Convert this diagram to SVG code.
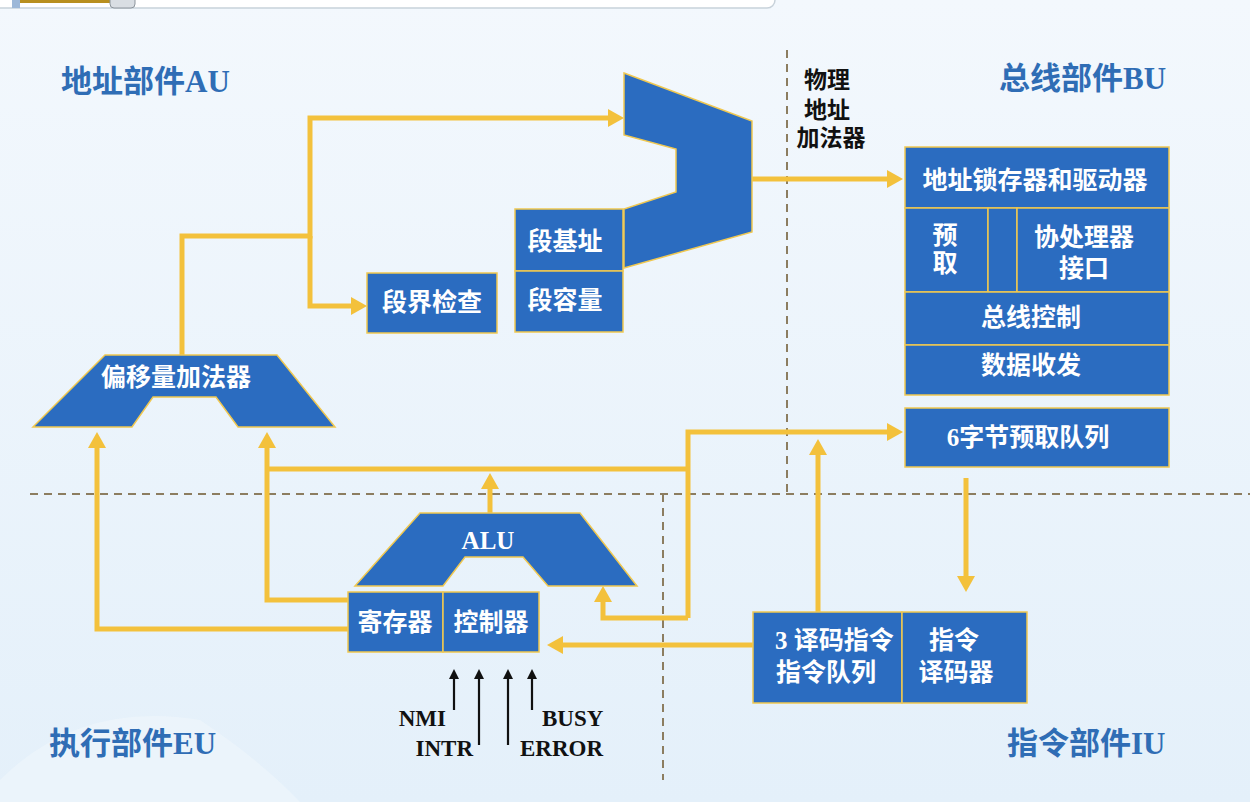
<svg xmlns="http://www.w3.org/2000/svg" width="1250" height="802" viewBox="0 0 1250 802">
<style>
.blk{fill:#2b6cc0;stroke:#f0c850;stroke-width:1.5}
.wt{fill:#ffffff;font-family:"Liberation Serif","Noto Sans CJK SC",serif;font-weight:bold;font-size:25px;text-anchor:middle;dominant-baseline:central}
.ws{text-anchor:start}
.hd{fill:#2f6db5;font-family:"Liberation Serif","Noto Sans CJK SC",serif;font-weight:bold;font-size:31px;dominant-baseline:central}
.bk{fill:#111111;font-family:"Liberation Serif","Noto Sans CJK SC",serif;font-weight:bold;font-size:23px;dominant-baseline:central}
.gl{fill:none;stroke:#f3c13c;stroke-width:5;stroke-linejoin:miter}
.sg{fill:none;stroke:#111111;stroke-width:2.2}
.dash{fill:none;stroke:#8c7d60;stroke-width:2;stroke-dasharray:8 6}
</style>
<defs>
<linearGradient id="bg" x1="0" y1="0" x2="0" y2="1">
<stop offset="0" stop-color="#f3f8fd"/>
<stop offset="1" stop-color="#e4f0fa"/>
</linearGradient>
<marker id="ga" viewBox="0 0 16 18" markerUnits="userSpaceOnUse" markerWidth="16" markerHeight="18" refX="2" refY="9" orient="auto">
<path d="M0,0 L16,9 L0,18 z" fill="#f3c13c"/>
</marker>
<marker id="ba" viewBox="0 0 10 10" markerUnits="userSpaceOnUse" markerWidth="10" markerHeight="10" refX="1" refY="5" orient="auto">
<path d="M0,0 L10,5 L0,10 z" fill="#111111"/>
</marker>
</defs>
<rect x="0" y="0" width="1250" height="802" fill="url(#bg)"/>
<path d="M0,780 Q80,700 200,720 Q260,760 300,802 L0,802 z" fill="#f6fafd" opacity="0.4"/>
<g id="topbar">
<rect x="-10" y="-12" width="785" height="20" rx="8" fill="#ffffff" stroke="#c8d2da" stroke-width="1.5"/>
<rect x="20" y="-4" width="92" height="7" fill="#b88f1e"/>
<rect x="110" y="-6" width="25" height="14" rx="4" fill="#d9dee3" stroke="#8d959c" stroke-width="1"/>
<rect x="12" y="-4" width="8" height="12" fill="#9db8d8"/>
</g>
<g id="dividers">
<path class="dash" d="M30,494 H1250"/>
<path class="dash" d="M787,50 V494"/>
<path class="dash" d="M663,494 V780"/>
</g>
<g id="headers">
<text class="hd" x="61" y="81">地址部件AU</text>
<text class="hd" x="999" y="78">总线部件BU</text>
<text class="hd" x="49" y="743">执行部件EU</text>
<text class="hd" x="1007" y="743">指令部件IU</text>
</g>
<g id="connectors">
<path class="gl" d="M182,355 V236 H310 V118 H610" marker-end="url(#ga)"/>
<path class="gl" d="M310,236 V306 H353" marker-end="url(#ga)"/>
<path class="gl" d="M752,179 H889" marker-end="url(#ga)"/>
<path class="gl" d="M348,629 H97 V446" marker-end="url(#ga)"/>
<path class="gl" d="M348,600 H267 V446" marker-end="url(#ga)"/>
<path class="gl" d="M267,469 H688"/>
<path class="gl" d="M688,618 V432 H889" marker-end="url(#ga)"/>
<path class="gl" d="M688,618 H603 V600" marker-end="url(#ga)"/>
<path class="gl" d="M490,513 V487" marker-end="url(#ga)"/>
<path class="gl" d="M753,645 H561" marker-end="url(#ga)"/>
<path class="gl" d="M818,612 V453" marker-end="url(#ga)"/>
<path class="gl" d="M966,478 V578" marker-end="url(#ga)"/>
<path class="sg" d="M454,710 V678" marker-end="url(#ba)"/>
<path class="sg" d="M479,745 V678" marker-end="url(#ba)"/>
<path class="sg" d="M508,745 V678" marker-end="url(#ba)"/>
<path class="sg" d="M532,710 V678" marker-end="url(#ba)"/>
</g>
<g id="physAdder">
<polygon class="blk" points="624,73 752,121 752,232 624,268 624,209 676,192 676,149 624,135"/>
<text class="bk" x="827" y="80" text-anchor="middle">物理</text>
<text class="bk" x="827" y="110" text-anchor="middle">地址</text>
<text class="bk" x="831" y="138" text-anchor="middle">加法器</text>
</g>
<g id="segBase">
<rect class="blk" x="515" y="209" width="108" height="62"/>
<text class="wt" x="565" y="241">段基址</text>
</g>
<g id="segLimit">
<rect class="blk" x="515" y="271" width="108" height="61"/>
<text class="wt" x="565" y="300">段容量</text>
</g>
<g id="segCheck">
<rect class="blk" x="367" y="273" width="130" height="60"/>
<text class="wt" x="432" y="302">段界检查</text>
</g>
<g id="offsetAdder">
<polygon class="blk" points="105,355 277,355 335,427 238,427 216,397 153,397 132,427 33,427"/>
<text class="wt" x="176" y="377">偏移量加法器</text>
</g>
<g id="alu">
<polygon class="blk" points="420,513 580,513 637,586 548,586 523,557 465,557 443,586 355,586"/>
<text class="wt" x="488" y="540">ALU</text>
</g>
<g id="registers">
<rect class="blk" x="348" y="592" width="95" height="60"/>
<text class="wt" x="395" y="622">寄存器</text>
</g>
<g id="controller">
<rect class="blk" x="443" y="592" width="96" height="60"/>
<text class="wt" x="491" y="622">控制器</text>
</g>
<g id="signals">
<text class="bk" x="446" y="718" text-anchor="end">NMI</text>
<text class="bk" x="473" y="748" text-anchor="end">INTR</text>
<text class="bk" x="542" y="718">BUSY</text>
<text class="bk" x="520" y="748">ERROR</text>
</g>
<g id="busUnit">
<rect class="blk" x="905" y="147" width="264" height="61"/>
<text class="wt" x="1035" y="180">地址锁存器和驱动器</text>
<rect class="blk" x="905" y="208" width="83" height="84"/>
<text class="wt" x="945" y="235">预</text>
<text class="wt" x="945" y="263">取</text>
<rect class="blk" x="988" y="208" width="29" height="84"/>
<rect class="blk" x="1017" y="208" width="152" height="84"/>
<text class="wt" x="1084" y="237">协处理器</text>
<text class="wt" x="1084" y="268">接口</text>
<rect class="blk" x="905" y="292" width="264" height="53"/>
<text class="wt" x="1031" y="317">总线控制</text>
<rect class="blk" x="905" y="345" width="264" height="50"/>
<text class="wt" x="1031" y="365">数据收发</text>
</g>
<g id="prefetchQueue">
<rect class="blk" x="905" y="408" width="264" height="59"/>
<text class="wt" x="1028" y="437">6字节预取队列</text>
</g>
<g id="instrQueue">
<rect class="blk" x="753" y="612" width="149" height="91"/>
<text class="wt ws" x="775" y="640">3 译码指令</text>
<text class="wt ws" x="776" y="672">指令队列</text>
</g>
<g id="instrDecoder">
<rect class="blk" x="902" y="612" width="125" height="91"/>
<text class="wt" x="954" y="640">指令</text>
<text class="wt" x="956" y="672">译码器</text>
</g>
</svg>
